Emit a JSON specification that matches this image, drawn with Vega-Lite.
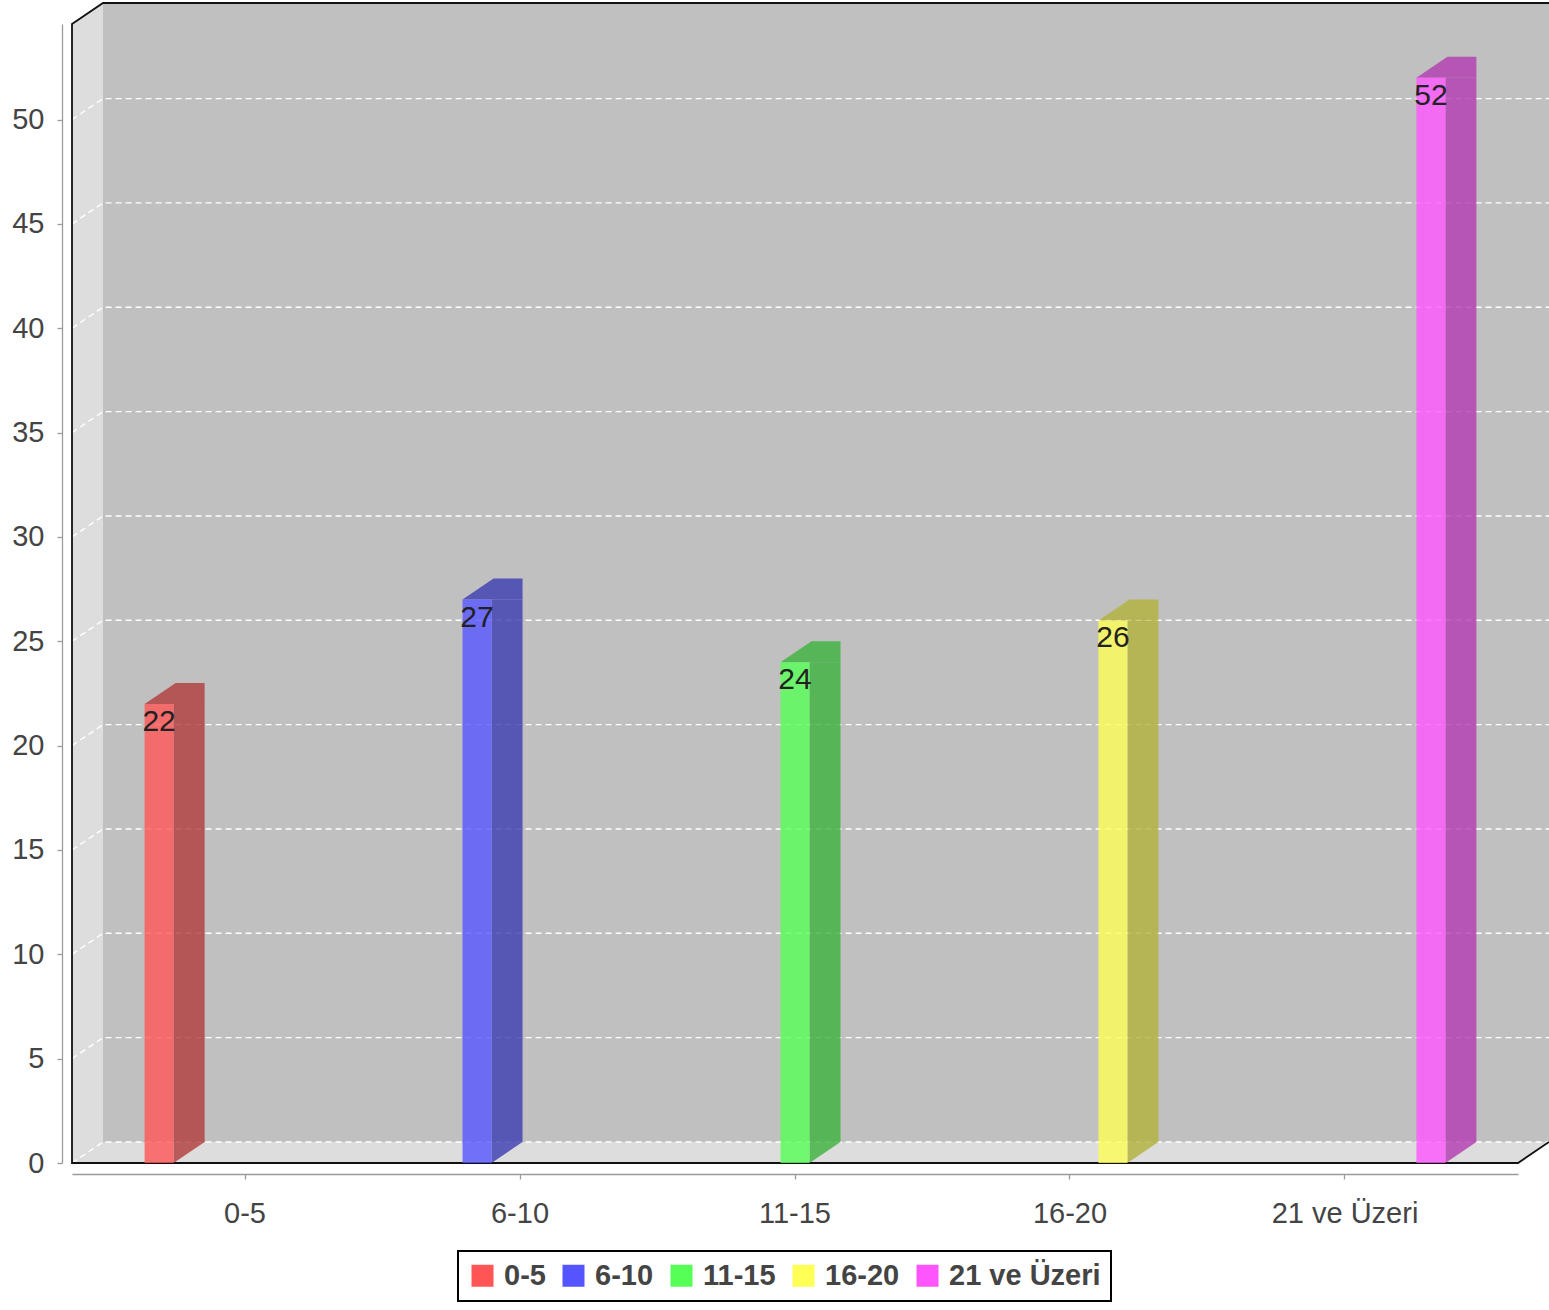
{
  "$schema": "https://vega.github.io/schema/vega-lite/v6.json",
  "width": 1446,
  "height": 1139,
  "autosize": {"type": "none"},
  "padding": {"left": 72, "top": 24, "right": 31, "bottom": 147},
  "background": "white",
  "datasets": {
    "gruplar": [
      {"yas": "0-5", "sayi": 22},
      {"yas": "6-10", "sayi": 27},
      {"yas": "11-15", "sayi": 24},
      {"yas": "16-20", "sayi": 26},
      {"yas": "21 ve Üzeri", "sayi": 52}
    ],
    "izgara": [
      {"deger": 0}, {"deger": 5}, {"deger": 10}, {"deger": 15}, {"deger": 20}, {"deger": 25},
      {"deger": 30}, {"deger": 35}, {"deger": 40}, {"deger": 45}, {"deger": 50}
    ],
    "tek": [{}]
  },
  "data": {"name": "gruplar"},
  "config": {
    "view": {"stroke": null, "fill": null},
    "font": "Liberation Sans",
    "axis": {
      "grid": false,
      "domainColor": "#9a9a9a",
      "tickColor": "#9a9a9a",
      "domainWidth": 1.3,
      "tickWidth": 1.3,
      "tickSize": 5,
      "labelFont": "Liberation Sans",
      "labelFontSize": 29,
      "labelColor": "#444444"
    },
    "axisX": {"offset": 11, "labelPadding": 20, "labelAngle": 0},
    "axisY": {"offset": 10, "labelPadding": 13, "tickCount": 11, "labelDy": 2},
    "legend": {"strokeWidth": 2}
  },
  "resolve": {"scale": {"xOffset": "independent"}},
  "layer": [
    {
      "description": "back wall of the 3D plot box",
      "data": {"name": "tek"},
      "mark": {"type": "point", "shape": "M-692,-1160H754V-21H-692Z", "size": 4, "filled": true, "fill": "#c0c0c0", "opacity": 1, "strokeWidth": 0},
      "encoding": {"y": {"datum": 0, "type": "quantitative", "title": null}}
    },
    {
      "description": "left wall and floor",
      "data": {"name": "tek"},
      "mark": {"type": "point", "shape": "M-723,-1139L-692,-1160V-21H754L723,0H-723Z", "size": 4, "filled": true, "fill": "#dddddd", "opacity": 1, "strokeWidth": 0},
      "encoding": {"y": {"datum": 0, "type": "quantitative", "title": null}}
    },
    {
      "description": "dashed gridlines running across the left wall and the back wall",
      "data": {"name": "izgara"},
      "mark": {"type": "point", "shape": "M-723,0L-692,-21H754", "size": 4, "filled": false, "fill": null, "stroke": "white", "strokeWidth": 1.4, "strokeDash": [6, 4], "opacity": 1},
      "encoding": {"y": {"field": "deger", "type": "quantitative", "title": null}}
    },
    {
      "description": "plot box outline",
      "data": {"name": "tek"},
      "mark": {"type": "point", "shape": "M754,-1160H-692L-723,-1139V0H723L754,-21", "size": 4, "filled": false, "fill": null, "stroke": "#111111", "strokeWidth": 1.8, "opacity": 1},
      "encoding": {"y": {"datum": 0, "type": "quantitative", "title": null}}
    },
    {
      "description": "bar side faces: offset slots sit just right of each front face",
      "mark": {"type": "bar", "y2Offset": -21, "fillOpacity": 0.8, "strokeWidth": 0},
      "encoding": {
        "x": {"field": "yas", "type": "nominal", "title": null, "scale": {"domain": ["0-5", "6-10", "11-15", "16-20", "21 ve Üzeri"], "paddingInner": 0, "paddingOuter": 0.1291}},
        "xOffset": {"field": "yas", "type": "nominal", "scale": {"type": "band", "domain": ["0-5", "6-10", "11-15", "16-20", "21 ve Üzeri"], "paddingInner": 0.27821, "paddingOuter": 0.84061, "align": 0.9155}},
        "y": {"field": "sayi", "type": "quantitative", "title": null, "scale": {"domain": [0, 54.58], "nice": false, "zero": true}},
        "y2": {"datum": 0},
        "fill": {"field": "yas", "type": "nominal", "legend": null, "scale": {"domain": ["21 ve Üzeri", "16-20", "11-15", "6-10", "0-5"], "range": ["#b23bb2", "#b2b23b", "#3bb23b", "#3b3bb2", "#b23b3b"]}}
      }
    },
    {
      "description": "bar top faces",
      "mark": {"type": "point", "shape": "M-14.5,0H45.5V-21H16.5Z", "size": 4, "filled": true, "opacity": 1, "fillOpacity": 0.8, "strokeWidth": 0},
      "encoding": {
        "x": {"field": "yas", "type": "nominal", "title": null},
        "xOffset": {"field": "yas", "type": "nominal", "scale": {"type": "band", "domain": ["0-5", "6-10", "11-15", "16-20", "21 ve Üzeri"], "paddingInner": 0.3248, "paddingOuter": 0.8639}},
        "y": {"field": "sayi", "type": "quantitative", "title": null},
        "fill": {"field": "yas", "type": "nominal", "legend": null}
      }
    },
    {
      "description": "lower corner of the side faces",
      "mark": {"type": "point", "shape": "M14.5,0V-21H45.5Z", "size": 4, "filled": true, "opacity": 1, "fillOpacity": 0.8, "strokeWidth": 0},
      "encoding": {
        "x": {"field": "yas", "type": "nominal", "title": null},
        "xOffset": {"field": "yas", "type": "nominal", "scale": {"type": "band", "domain": ["0-5", "6-10", "11-15", "16-20", "21 ve Üzeri"], "paddingInner": 0.3248, "paddingOuter": 0.8639}},
        "y": {"datum": 0, "type": "quantitative", "title": null},
        "fill": {"field": "yas", "type": "nominal", "legend": null}
      }
    },
    {
      "description": "bar front faces",
      "mark": {"type": "bar", "fillOpacity": 0.8, "strokeWidth": 0},
      "encoding": {
        "x": {"field": "yas", "type": "nominal", "title": null},
        "xOffset": {"field": "yas", "type": "nominal", "scale": {"type": "band", "domain": ["0-5", "6-10", "11-15", "16-20", "21 ve Üzeri"], "paddingInner": 0.3248, "paddingOuter": 0.8639}},
        "y": {"field": "sayi", "type": "quantitative", "title": null},
        "color": {
          "field": "yas",
          "type": "nominal",
          "scale": {"domain": ["0-5", "6-10", "11-15", "16-20", "21 ve Üzeri"], "range": ["#ff5555", "#5555ff", "#55ff55", "#ffff55", "#ff55ff"]},
          "legend": {
            "title": null,
            "orient": "none",
            "legendX": 386,
            "legendY": 1227,
            "direction": "horizontal",
            "symbolType": "square",
            "symbolSize": 484,
            "symbolStrokeWidth": 0,
            "symbolOpacity": 1,
            "labelFont": "Liberation Sans",
            "labelFontSize": 29,
            "labelFontWeight": "bold",
            "labelColor": "#444444",
            "labelOffset": 7,
            "labelLimit": 300,
            "columnPadding": 13,
            "padding": 10,
            "strokeColor": "black",
            "fillColor": "white"
          }
        }
      }
    },
    {
      "description": "value labels",
      "mark": {"type": "text", "baseline": "alphabetic", "align": "center", "dy": 27, "font": "Liberation Sans", "fontSize": 30, "fill": "#222222"},
      "encoding": {
        "x": {"field": "yas", "type": "nominal", "title": null},
        "xOffset": {"field": "yas", "type": "nominal", "scale": {"type": "band", "domain": ["0-5", "6-10", "11-15", "16-20", "21 ve Üzeri"], "paddingInner": 0.3248, "paddingOuter": 0.8639}},
        "y": {"field": "sayi", "type": "quantitative", "title": null},
        "text": {"field": "sayi", "type": "quantitative"}
      }
    }
  ]
}
